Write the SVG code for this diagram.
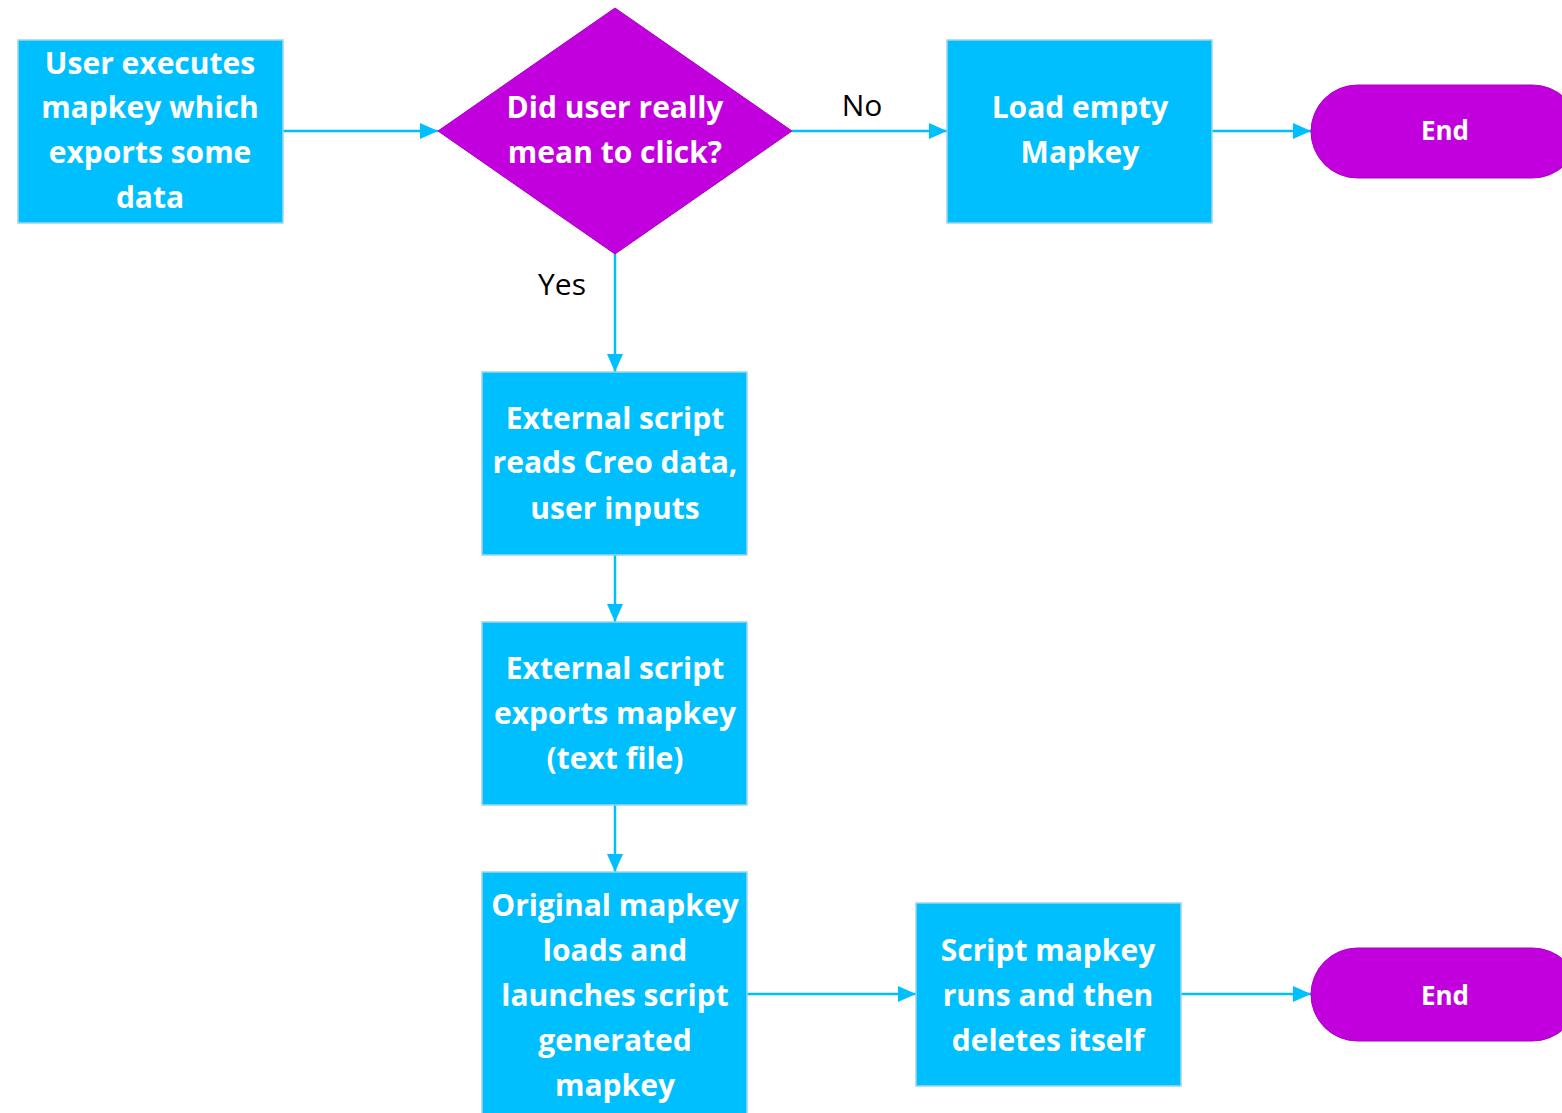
<svg xmlns="http://www.w3.org/2000/svg" width="1562" height="1113" viewBox="0 0 1562 1113">
<defs>
<marker id="arr" markerWidth="18" markerHeight="16" refX="18" refY="8" orient="auto" markerUnits="userSpaceOnUse">
<path d="M0,0 L18,8 L0,16 Z" fill="#00BFFF"/>
</marker>
<style>
.box{fill:#00BFFF;stroke:#9FD4EA;stroke-width:1.5}
.dec{fill:#C200DD;stroke:#A800C0;stroke-width:1}
.t{font-family:"Open Sans",Lato,sans-serif;font-weight:bold;font-size:30px;fill:#FFFFFF;text-anchor:middle}
.te{font-size:26px}
.lbl{font-family:"Open Sans",Lato,sans-serif;font-size:30px;fill:#000000;text-anchor:middle}
.c{stroke:#00BFFF;stroke-width:2.5;fill:none;marker-end:url(#arr)}
</style>
</defs>
<rect width="1562" height="1113" fill="#FFFFFF"/>
<g id="connectors">
<path class="c" d="M283,131 H438"/>
<path class="c" d="M792,131 H947"/>
<path class="c" d="M1212,131 H1311"/>
<path class="c" d="M615,254 V372"/>
<path class="c" d="M615,555 V622"/>
<path class="c" d="M615,805 V872"/>
<path class="c" d="M747,994 H916"/>
<path class="c" d="M1181,994 H1311"/>
<text class="lbl" x="862" y="116">No</text>
<text class="lbl" x="562" y="295">Yes</text>
</g>
<g id="n1">
<rect class="box" x="18" y="40" width="265" height="183"/>
<text class="t" x="150" y="74">User executes</text>
<text class="t" x="150" y="118">mapkey which</text>
<text class="t" x="150" y="163">exports some</text>
<text class="t" x="150" y="208">data</text>
</g>
<g id="n2">
<polygon class="dec" points="615,8 792,131 615,254 438,131"/>
<text class="t" x="615" y="118">Did user really</text>
<text class="t" x="615" y="163">mean to click?</text>
</g>
<g id="n3">
<rect class="box" x="947" y="40" width="265" height="183"/>
<text class="t" x="1080" y="118">Load empty</text>
<text class="t" x="1080" y="163">Mapkey</text>
</g>
<g id="n4">
<rect class="dec" x="1311" y="85" width="268" height="93" rx="46.5" ry="46.5"/>
<text class="t te" x="1445" y="140">End</text>
</g>
<g id="n5">
<rect class="box" x="482" y="372" width="265" height="183"/>
<text class="t" x="615" y="429">External script</text>
<text class="t" x="615" y="473">reads Creo data,</text>
<text class="t" x="615" y="519">user inputs</text>
</g>
<g id="n6">
<rect class="box" x="482" y="622" width="265" height="183"/>
<text class="t" x="615" y="679">External script</text>
<text class="t" x="615" y="724">exports mapkey</text>
<text class="t" x="615" y="769">(text file)</text>
</g>
<g id="n7">
<rect class="box" x="482" y="872" width="265" height="246"/>
<text class="t" x="615" y="916">Original mapkey</text>
<text class="t" x="615" y="961">loads and</text>
<text class="t" x="615" y="1006">launches script</text>
<text class="t" x="615" y="1051">generated</text>
<text class="t" x="615" y="1096">mapkey</text>
</g>
<g id="n8">
<rect class="box" x="916" y="903" width="265" height="183"/>
<text class="t" x="1048" y="961">Script mapkey</text>
<text class="t" x="1048" y="1006">runs and then</text>
<text class="t" x="1048" y="1051">deletes itself</text>
</g>
<g id="n9">
<rect class="dec" x="1311" y="948" width="268" height="93" rx="46.5" ry="46.5"/>
<text class="t te" x="1445" y="1005">End</text>
</g>
</svg>
